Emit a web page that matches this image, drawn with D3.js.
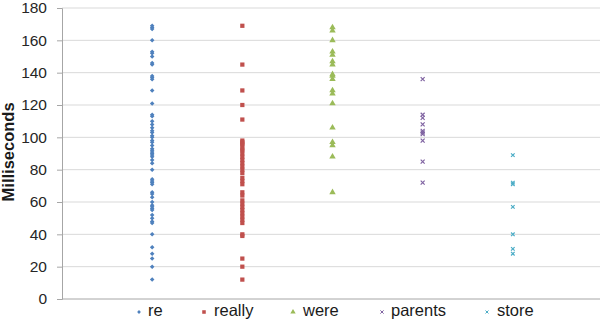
<!DOCTYPE html>
<html>
<head>
<meta charset="utf-8">
<script src="https://cdn.jsdelivr.net/npm/d3@7"></script>
<style>
  body { margin: 0; background: #fff; }
  svg { font-family: "Liberation Sans", Arial, sans-serif; }
</style>
</head>
<body>
<svg id="canvas" width="605" height="327"></svg>
<script>
// series names, in order along the x axis
let categories = ['re', 'really', 'were', 'parents', 'store']

// milliseconds per word
let reValues = [169, 168, 167, 160, 153, 152, 150, 146, 145, 138, 137, 136, 129, 121, 114, 113, 110, 108, 106, 104, 103, 101, 100, 98, 97, 95, 93, 92, 91, 90, 89, 88, 86, 84, 80, 74, 73, 72, 71, 66, 65, 63, 60, 58, 57, 56, 55, 52, 50, 48, 47, 40, 32, 28, 25, 20, 12]
let reallyValues = [169, 145, 129, 120, 111, 98, 97, 96, 95, 93, 92, 90, 88, 86, 84, 82, 80, 78, 75, 73, 71, 66, 64, 61, 59, 57, 55, 53, 51, 49, 47, 40, 39, 25, 20, 12]
let wereValues = [168, 166, 160, 153, 151, 147, 145, 139, 138, 136, 129, 127, 121, 106, 97, 95, 88, 66]
let parentsValues = [136, 114, 112, 108, 104, 103, 102, 98, 85, 72]
let storeValues = [89, 72, 71, 57, 40, 31, 28]

let yTicks = [0, 20, 40, 60, 80, 100, 120, 140, 160, 180]

let colors = ['#4F81BD', '#C0504D', '#9BBB59', '#8064A2', '#4BACC6']
let symbols = [d3.symbolDiamond2, d3.symbolSquare, d3.symbolTriangle, d3.symbolX, d3.symbolX]
let sizes = [13, 18, 18, 12, 10]

let allValues = [reValues, reallyValues, wereValues, parentsValues, storeValues]

let svg = d3.select('#canvas')

let xScale = d3.scaleLinear().domain([0, 6]).range([62, 603])
let yScale = d3.scaleLinear().domain([0, 180]).range([299, 8])

// gridlines
svg.append('g')
    .selectAll('line')
    .data(yTicks.filter(t => t > 0))
    .enter()
    .append('line')
    .attr('x1', xScale(0))
    .attr('x2', 600)
    .attr('y1', d => yScale(d))
    .attr('y2', d => yScale(d))
    .attr('stroke', '#d9d9d9')
    .attr('stroke-width', 1)

// y axis
let yAxis = d3.axisLeft(yScale).tickValues(yTicks).tickSize(5).tickPadding(10)
let yAxisG = svg.append('g')
    .attr('transform', 'translate(' + xScale(0) + ',0)')
    .call(yAxis)
yAxisG.select('.domain').attr('stroke', '#a6a6a6')
yAxisG.selectAll('.tick line').attr('stroke', '#a6a6a6')
yAxisG.selectAll('.tick text')
    .attr('font-size', 15.5)
    .attr('fill', '#262626')
    .style('font-family', '"Liberation Sans", Arial, sans-serif')

// bottom axis line
svg.append('line')
    .attr('x1', xScale(0))
    .attr('x2', 600)
    .attr('y1', yScale(0))
    .attr('y2', yScale(0))
    .attr('stroke', '#a6a6a6')

// axis title
svg.append('text')
    .attr('transform', 'translate(10,' + yScale(91) + ') rotate(-90)')
    .attr('text-anchor', 'middle')
    .attr('dominant-baseline', 'middle')
    .attr('font-size', 16.5)
    .attr('font-weight', 'bold')
    .attr('fill', '#1a1a1a')
    .text('Milliseconds')

// points
categories.forEach((cat, i) => {
    let sym = d3.symbol().type(symbols[i]).size(sizes[i])
    svg.append('g')
        .selectAll('path')
        .data(allValues[i])
        .enter()
        .append('path')
        .attr('d', sym)
        .attr('transform', d => 'translate(' + xScale(i + 1) + ',' + yScale(d) + ')')
        .attr('fill', symbols[i] === d3.symbolX ? 'none' : colors[i])
        .attr('stroke', symbols[i] === d3.symbolX ? colors[i] : 'none')
        .attr('stroke-width', 1.2)
})

// legend
let legendX = [139, 204, 293, 382, 487]
let legend = svg.append('g')
    .selectAll('g')
    .data(categories)
    .enter()
    .append('g')
    .attr('transform', (d, i) => 'translate(' + legendX[i] + ',312)')

legend.append('path')
    .attr('d', (d, i) => d3.symbol().type(symbols[i]).size(sizes[i] * 0.7)())
    .attr('fill', (d, i) => symbols[i] === d3.symbolX ? 'none' : colors[i])
    .attr('stroke', (d, i) => symbols[i] === d3.symbolX ? colors[i] : 'none')
    .attr('stroke-width', 1)

legend.append('text')
    .attr('x', (d, i) => i === 1 || i === 2 || i === 4 ? 10 : 9)
    .attr('y', 0)
    .attr('dominant-baseline', 'middle')
    .attr('font-size', 16.5)
    .attr('fill', '#1a1a1a')
    .text(d => d)
</script>
</body>
</html>
